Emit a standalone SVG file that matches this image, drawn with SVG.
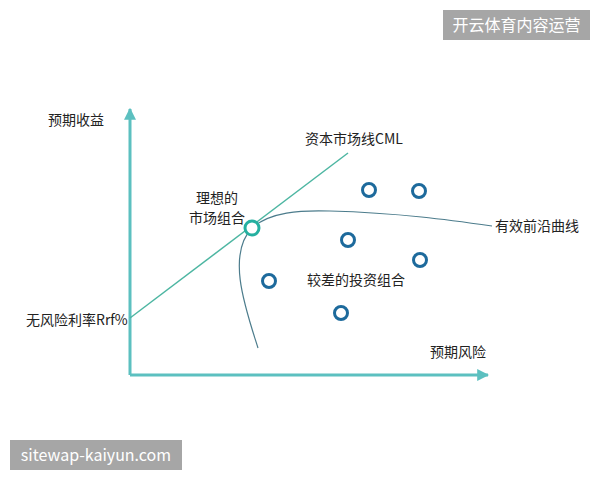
<svg xmlns="http://www.w3.org/2000/svg" width="600" height="480" viewBox="0 0 600 480">
<defs>
<style>
.lbl{font-family:"Noto Sans CJK SC","Liberation Sans",sans-serif;font-size:14px;fill:#222}
.wm{font-family:"Noto Sans CJK SC","Liberation Sans",sans-serif;font-size:16px;fill:#fff}
.pt{fill:#fff;stroke:#1d6a9c;stroke-width:3}
</style>
<marker id="ah" viewBox="0 0 10 10" refX="9" refY="5" markerWidth="4" markerHeight="4" orient="auto-start-reverse">
<path d="M0,0 L10,5 L0,10 z" fill="#5cc0c0"/>
</marker>
</defs>
<rect width="600" height="480" fill="#fff"/>
<g id="watermark-top">
<rect x="443" y="10" width="147" height="30" fill="#a6a6a6"/>
<text class="wm" x="516.5" y="31" text-anchor="middle">开云体育内容运营</text>
</g>
<g id="watermark-bottom">
<rect x="10" y="440" width="172" height="30" fill="#a6a6a6"/>
<text class="wm" x="96" y="461" text-anchor="middle" font-family="'Liberation Sans',sans-serif">sitewap-kaiyun.com</text>
</g>
<g id="connectors" fill="none">
<path id="y-axis" d="M130,375 L130,109" stroke="#5cc0c0" stroke-width="3" marker-end="url(#ah)"/>
<path id="x-axis" d="M130,375 L488,375" stroke="#5cc0c0" stroke-width="3" marker-end="url(#ah)"/>
<path id="cml" d="M130,318 L348,153" stroke="#4db6a2" stroke-width="1.5"/>
<path id="frontier" d="M258,348 C246,310 226,255 252,228 C270,212 300,210 330,211 C400,213 450,220 492,226" stroke="#4c7c8c" stroke-width="1.2"/>
</g>
<g id="market"><circle cx="252" cy="228" r="7" fill="#fff" stroke="#25b0a0" stroke-width="3"/></g>
<g id="p1"><circle class="pt" cx="369" cy="190" r="6.5"/></g>
<g id="p2"><circle class="pt" cx="419" cy="191" r="6.5"/></g>
<g id="p3"><circle class="pt" cx="348" cy="240" r="6.5"/></g>
<g id="p4"><circle class="pt" cx="269" cy="281" r="6.5"/></g>
<g id="p5"><circle class="pt" cx="420" cy="260" r="6.5"/></g>
<g id="p6"><circle class="pt" cx="341" cy="313" r="6.5"/></g>
<g id="labels">
<text class="lbl" text-anchor="middle" font-size="13" x="217" y="203">理想的</text>
<text class="lbl" text-anchor="middle" font-size="13" x="217" y="223">市场组合</text>
<text class="lbl" x="48" y="125">预期收益</text>
<text class="lbl" x="430" y="357">预期风险</text>
<text class="lbl" x="26" y="325">无风险利率Rrf%</text>
<text class="lbl" x="305" y="144">资本市场线CML</text>
<text class="lbl" x="495" y="231">有效前沿曲线</text>
<text class="lbl" x="307" y="285">较差的投资组合</text>
</g>
</svg>
